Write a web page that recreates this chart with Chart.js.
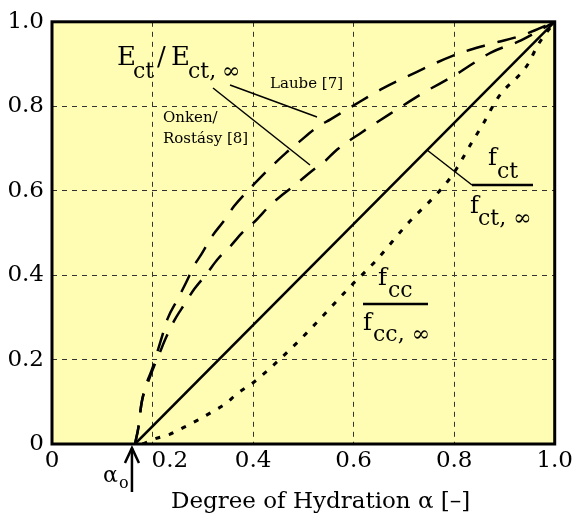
<!DOCTYPE html>
<html>
<head>
<meta charset="utf-8">
<script src="https://cdn.jsdelivr.net/npm/chart.js@4"></script>
<style>
  html, body { margin: 0; padding: 0; background: #fff; }
  #wrap { width: 576px; height: 516px; }
</style>
</head>
<body>
<div id="wrap"><canvas id="hydChart" width="576" height="516"></canvas></div>
<script>
// tick labels
const xTickLabels = ['0', '0.2', '0.4', '0.6', '0.8', '1.0'];
const yTickLabels = ['0', '0.2', '0.4', '0.6', '0.8', '1.0'];

// degree of hydration where strength starts
const alpha0 = 0.165;

// f_ct / f_ct,inf (linear from alpha0)
const fctAlpha = [alpha0, 1.0];
const fctVal = [0, 1.0];

// E_ct / E_ct,inf  Laube [7]
const laubeAlpha = [0.165, 0.172, 0.178, 0.188, 0.2, 0.21, 0.22, 0.23, 0.25, 0.267, 0.283, 0.297, 0.319, 0.343, 0.362, 0.388, 0.412, 0.438, 0.465, 0.491, 0.527, 0.554, 0.596, 0.659, 0.725, 0.798, 0.861, 0.933, 1.0];
const laubeVal = [0, 0.04, 0.096, 0.143, 0.18, 0.22, 0.259, 0.297, 0.343, 0.383, 0.423, 0.449, 0.493, 0.53, 0.563, 0.598, 0.628, 0.659, 0.689, 0.715, 0.75, 0.769, 0.799, 0.843, 0.881, 0.92, 0.944, 0.967, 1.0];

// E_ct / E_ct,inf  Onken/Rostasy [8]
const onkenAlpha = [0.165, 0.172, 0.178, 0.19, 0.218, 0.228, 0.244, 0.263, 0.283, 0.307, 0.329, 0.356, 0.378, 0.406, 0.432, 0.457, 0.487, 0.515, 0.544, 0.564, 0.616, 0.679, 0.739, 0.802, 0.873, 0.933, 1.0];
const onkenVal = [0, 0.04, 0.096, 0.143, 0.227, 0.255, 0.294, 0.33, 0.367, 0.402, 0.437, 0.47, 0.5, 0.53, 0.563, 0.589, 0.617, 0.645, 0.671, 0.694, 0.738, 0.787, 0.832, 0.874, 0.927, 0.956, 1.0];

// f_cc / f_cc,inf
const fccAlpha = [0.18, 0.204, 0.234, 0.263, 0.289, 0.317, 0.346, 0.368, 0.4, 0.49, 0.596, 0.645, 0.703, 0.794, 0.838, 0.857, 0.887, 0.947, 0.966, 1.0];
const fccVal = [0, 0.012, 0.023, 0.04, 0.056, 0.075, 0.096, 0.119, 0.145, 0.243, 0.376, 0.435, 0.516, 0.633, 0.72, 0.757, 0.82, 0.9, 0.944, 1.0];

const toPts = (xs, ys) => xs.map((x, i) => ({ x: x, y: ys[i] }));

const SERIF = "'DejaVu Serif', serif";
const BG = '#fffdb3';

// fills plot area and draws thick frame
const framePlugin = {
  id: 'frame',
  beforeDraw(chart) {
    const { ctx, chartArea: a } = chart;
    ctx.save();
    ctx.fillStyle = '#fff';
    ctx.fillRect(0, 0, chart.width, chart.height);
    ctx.fillStyle = BG;
    ctx.fillRect(a.left, a.top, a.right - a.left, a.bottom - a.top);
    ctx.restore();
  },
  afterDraw(chart) {
    const { ctx, chartArea: a } = chart;
    ctx.save();
    ctx.strokeStyle = '#000';
    ctx.lineWidth = 3;
    ctx.strokeRect(a.left, a.top, a.right - a.left, a.bottom - a.top);
    ctx.restore();
  }
};

function txt(ctx, s, x, y, size) {
  ctx.font = size + 'px ' + SERIF;
  ctx.fillText(s, x, y);
}
function seg(ctx, x1, y1, x2, y2, w) {
  ctx.lineWidth = w;
  ctx.beginPath();
  ctx.moveTo(x1, y1);
  ctx.lineTo(x2, y2);
  ctx.stroke();
}

// curve labels, leaders and the alpha_0 arrow
const labelPlugin = {
  id: 'labels',
  afterDraw(chart) {
    const ctx = chart.ctx;
    const xs = chart.scales.x;
    const ys = chart.scales.y;
    ctx.save();
    ctx.fillStyle = '#000';
    ctx.strokeStyle = '#000';
    ctx.textAlign = 'left';
    ctx.textBaseline = 'alphabetic';

    // E_ct / E_ct,inf
    txt(ctx, 'E', 117, 65, 26);
    txt(ctx, 'ct', 133, 78, 22);
    txt(ctx, '/', 157, 65, 26);
    txt(ctx, 'E', 171, 65, 26);
    txt(ctx, 'ct,', 188, 78, 22);
    txt(ctx, '\u221e', 222, 78, 22);

    txt(ctx, 'Laube [7]', 270, 88, 15);
    txt(ctx, 'Onken/', 163, 122, 15);
    txt(ctx, 'Rost\u00e1sy [8]', 163, 143, 15);
    seg(ctx, 230, 85, 317, 117, 1.5);
    seg(ctx, 213, 88, 310, 165, 1.5);

    // f_ct / f_ct,inf
    txt(ctx, 'f', 488, 165, 24);
    txt(ctx, 'ct', 497, 178, 22);
    seg(ctx, 472, 185, 533, 185, 2.5);
    txt(ctx, 'f', 470, 213, 24);
    txt(ctx, 'ct, \u221e', 478, 225, 22);
    seg(ctx, 427, 150, 472, 185, 1.5);

    // f_cc / f_cc,inf
    txt(ctx, 'f', 378, 285, 24);
    txt(ctx, 'cc', 388, 297, 22);
    seg(ctx, 363, 304, 428, 304, 2.5);
    txt(ctx, 'f', 363, 330, 24);
    txt(ctx, 'cc, \u221e', 373, 341, 22);

    // alpha_0 arrow under the axis
    const ax = xs.getPixelForValue(alpha0) - 3;
    const y0 = ys.getPixelForValue(0);
    ctx.lineWidth = 2.5;
    seg(ctx, ax, y0 + 4, ax, y0 + 48, 2.5);
    ctx.beginPath();
    ctx.moveTo(ax - 7, y0 + 19);
    ctx.lineTo(ax, y0 + 4);
    ctx.lineTo(ax + 7, y0 + 19);
    ctx.stroke();
    txt(ctx, '\u03b1', 103, 482, 22);
    txt(ctx, 'o', 119, 488, 16);
    ctx.restore();
  }
};

const gridDash = [5, 5];

new Chart(document.getElementById('hydChart'), {
  type: 'line',
  data: {
    datasets: [
      {
        label: 'f_ct',
        data: toPts(fctAlpha, fctVal),
        borderColor: '#000',
        borderWidth: 2.5,
        pointRadius: 0
      },
      {
        label: 'Laube',
        data: toPts(laubeAlpha, laubeVal),
        borderColor: '#000',
        borderWidth: 2.5,
        borderDash: [19, 13],
        pointRadius: 0,
        cubicInterpolationMode: 'monotone'
      },
      {
        label: 'Onken',
        data: toPts(onkenAlpha, onkenVal),
        borderColor: '#000',
        borderWidth: 2.5,
        borderDash: [19, 13],
        pointRadius: 0,
        cubicInterpolationMode: 'monotone'
      },
      {
        label: 'f_cc',
        data: toPts(fccAlpha, fccVal),
        borderColor: '#000',
        borderWidth: 3,
        borderDash: [5, 9],
        pointRadius: 0,
        cubicInterpolationMode: 'monotone'
      }
    ]
  },
  options: {
    responsive: false,
    animation: false,
    devicePixelRatio: 1,
    layout: { padding: { top: 16, right: 19, left: 0, bottom: 0 } },
    plugins: {
      legend: { display: false },
      tooltip: { enabled: false }
    },
    scales: {
      x: {
        type: 'linear',
        min: 0,
        max: 1,
        afterFit: (s) => { s.height = 72; },
        ticks: {
          stepSize: 0.2,
          padding: 3,
          color: '#000',
          font: { family: SERIF, size: 23 },
          maxRotation: 0,
          callback: (v, i) => (i === 1 ? '\u2003\u2002' : '') + xTickLabels[i]
        },
        grid: { color: '#333', lineWidth: 1, drawTicks: false, borderDash: gridDash },
        border: { display: false, dash: gridDash },
        title: {
          display: true,
          text: '\u2003\u2002Degree of Hydration \u03b1 [\u2013]',
          color: '#000',
          font: { family: SERIF, size: 23 },
          padding: { top: 0, bottom: 0 }
        }
      },
      y: {
        min: 0,
        max: 1,
        afterFit: (s) => { s.width = 52; },
        ticks: {
          stepSize: 0.2,
          padding: 8,
          color: '#000',
          font: { family: SERIF, size: 23 },
          callback: (v, i) => yTickLabels[i]
        },
        grid: { color: '#333', lineWidth: 1, drawTicks: false, borderDash: gridDash },
        border: { display: false, dash: gridDash }
      }
    }
  },
  plugins: [framePlugin, labelPlugin]
});
</script>
</body>
</html>
